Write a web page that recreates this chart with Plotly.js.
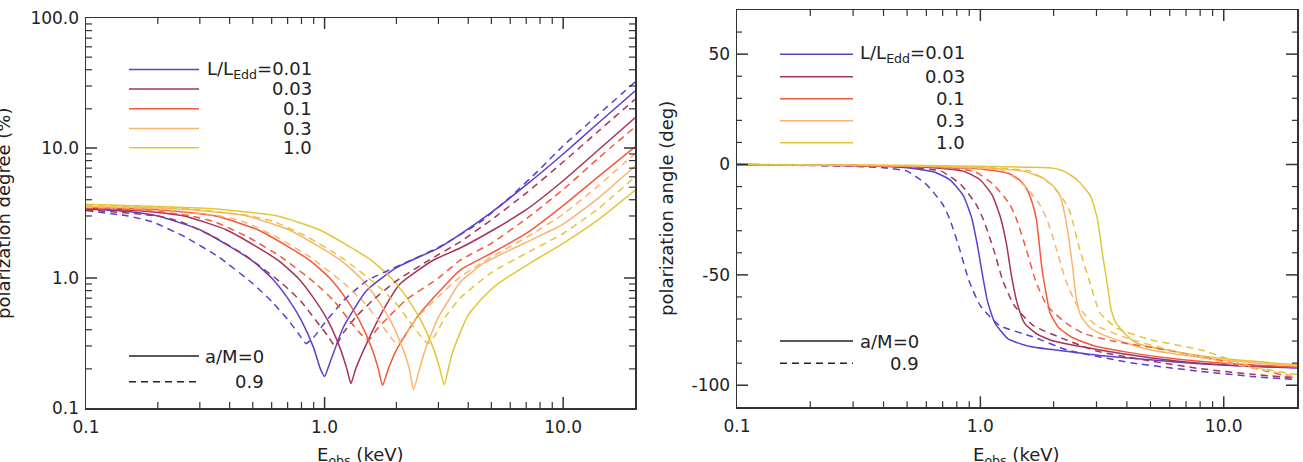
<!DOCTYPE html>
<html>
<head>
<meta charset="utf-8">
<script src="https://cdn.plot.ly/plotly-3.0.1.min.js"></script>
<style>
  html, body { margin: 0; padding: 0; background: #ffffff; }
  #chart { width: 1303px; height: 462px; }
</style>
</head>
<body>
<div id="chart"></div>
<script>
// ---- tick labels -------------------------------------------------------
const energyTickVals = [0.1, 1, 10];
const energyTickText = ['0.1', '1.0', '10.0'];
const degreeTickVals = [0.1, 1, 10, 100];
const degreeTickText = ['0.1', '1.0', '10.0', '100.0'];
const angleTickVals = [-100, -50, 0, 50];
const angleTickText = ['-100', '-50', '0', '50'];

// ---- legend entries ----------------------------------------------------
const lumLabels = ['0.01', '0.03', '0.1', '0.3', '1.0'];
const spinLabels = ['0', '0.9'];

// ---- polarization degree (%) vs energy (keV) ---------------------------
// a/M = 0
const degE_001_s0 = [0.1, 0.15, 0.2, 0.3, 0.4, 0.5, 0.6, 0.7, 0.8, 0.9, 0.96, 1.0, 1.05, 1.2, 1.5, 2.0, 3.0, 3.7, 5.0, 7.0, 10, 14, 20];
const degP_001_s0 = [3.4, 3.25, 3.0, 2.35, 1.75, 1.35, 1.0, 0.7, 0.47, 0.29, 0.2, 0.175, 0.22, 0.42, 0.8, 1.2, 1.7, 2.17, 3.2, 5.2, 9.0, 15.5, 27.4];
const degE_003_s0 = [0.1, 0.18, 0.258, 0.387, 0.516, 0.645, 0.774, 0.9, 1.032, 1.16, 1.24, 1.29, 1.35, 1.5, 1.76, 2.07, 2.85, 3.7, 5.0, 7.0, 10, 14, 20];
const degP_003_s0 = [3.45, 3.25, 3.0, 2.35, 1.75, 1.35, 1.0, 0.7, 0.47, 0.29, 0.2, 0.154, 0.2, 0.313, 0.565, 0.9, 1.37, 1.7, 2.3, 3.35, 5.6, 9.6, 17.1];
const degE_01_s0 = [0.1, 0.2, 0.35, 0.525, 0.7, 0.875, 1.05, 1.225, 1.4, 1.575, 1.68, 1.75, 1.85, 2.0, 2.44, 3.05, 3.7, 5.0, 7.0, 10, 14, 20];
const degP_01_s0 = [3.5, 3.35, 3.0, 2.35, 1.75, 1.35, 1.0, 0.7, 0.47, 0.29, 0.2, 0.149, 0.2, 0.28, 0.5, 0.8, 1.15, 1.55, 2.2, 3.6, 6.0, 10.2];
const degE_03_s0 = [0.1, 0.2, 0.3, 0.472, 0.708, 0.944, 1.18, 1.416, 1.652, 1.888, 2.124, 2.266, 2.36, 2.5, 2.67, 3.0, 3.35, 3.7, 4.65, 7.5, 10, 14, 20];
const degP_03_s0 = [3.55, 3.45, 3.3, 3.0, 2.35, 1.75, 1.35, 1.0, 0.7, 0.47, 0.29, 0.2, 0.139, 0.2, 0.3, 0.5, 0.7, 0.93, 1.3, 2.0, 2.6, 4.1, 7.27];
const degE_1_s0 = [0.1, 0.2, 0.35, 0.634, 0.951, 1.268, 1.585, 1.902, 2.219, 2.536, 2.853, 3.043, 3.17, 3.4, 3.7, 4.0, 4.65, 5.4, 7.5, 10, 14, 20];
const degP_1_s0 = [3.7, 3.55, 3.4, 3.0, 2.35, 1.75, 1.35, 1.0, 0.7, 0.47, 0.29, 0.2, 0.151, 0.25, 0.38, 0.52, 0.72, 0.92, 1.35, 1.85, 2.8, 4.73];
// a/M = 0.9
const degE_001_s9 = [0.1, 0.15, 0.19, 0.26, 0.36, 0.5, 0.6, 0.7, 0.78, 0.836, 0.9, 1.0, 1.2, 1.5, 2.0, 3.0, 4.5, 6.0, 8.0, 10, 14, 20];
const degP_001_s9 = [3.3, 3.0, 2.7, 2.07, 1.45, 0.906, 0.66, 0.48, 0.37, 0.313, 0.35, 0.45, 0.67, 0.95, 1.22, 1.72, 2.7, 4.2, 6.9, 10.4, 18, 32.2];
const degE_003_s9 = [0.1, 0.2, 0.251, 0.344, 0.476, 0.664, 0.797, 0.913, 1.03, 1.107, 1.2, 1.35, 1.6, 2.0, 2.7, 3.7, 5.0, 7.0, 10, 14, 20];
const degP_003_s9 = [3.35, 3.0, 2.7, 2.07, 1.45, 0.906, 0.66, 0.48, 0.36, 0.30, 0.38, 0.5, 0.68, 0.95, 1.35, 1.9, 2.8, 4.5, 7.8, 13.4, 23.7];
const degE_01_s9 = [0.1, 0.2, 0.275, 0.347, 0.476, 0.658, 0.918, 1.10, 1.26, 1.42, 1.53, 1.65, 1.85, 2.2, 3.0, 3.7, 5.0, 7.0, 10, 14, 20];
const degP_01_s9 = [3.45, 3.25, 3.0, 2.7, 2.07, 1.45, 0.906, 0.66, 0.48, 0.37, 0.332, 0.4, 0.5, 0.68, 1.0, 1.37, 1.85, 2.85, 4.8, 8.3, 14.5];
const degE_03_s9 = [0.1, 0.2, 0.364, 0.459, 0.628, 0.869, 1.21, 1.45, 1.67, 1.87, 2.02, 2.2, 2.45, 3.0, 3.7, 5.0, 7.0, 10, 14, 20];
const degP_03_s9 = [3.5, 3.4, 3.0, 2.7, 2.07, 1.45, 0.906, 0.66, 0.48, 0.36, 0.309, 0.38, 0.5, 0.72, 1.02, 1.45, 2.05, 3.1, 5.1, 9.06];
const degE_1_s9 = [0.1, 0.25, 0.49, 0.617, 0.846, 1.17, 1.63, 1.96, 2.24, 2.52, 2.72, 2.95, 3.2, 3.7, 5.0, 7.0, 10, 14, 20];
const degP_1_s9 = [3.6, 3.45, 3.0, 2.7, 2.07, 1.45, 0.906, 0.66, 0.48, 0.36, 0.313, 0.38, 0.5, 0.7, 1.1, 1.55, 2.2, 3.4, 5.98];

// ---- polarization angle (deg) vs energy (keV) --------------------------
// a/M = 0
const angE_001_s0 = [0.1, 0.3, 0.5, 0.65, 0.75, 0.85, 0.92, 0.97, 1.02, 1.07, 1.15, 1.3, 1.6, 2.2, 3.1, 5, 8, 13, 20];
const angA_001_s0 = [0, -0.5, -1.5, -3.5, -7, -14, -24, -36, -50, -62, -72, -79, -82.5, -84.5, -86.5, -88.5, -90.3, -91.5, -92.2];
const angE_003_s0 = [0.1, 0.3, 0.6, 0.85, 1.0, 1.12, 1.21, 1.28, 1.34, 1.41, 1.52, 1.72, 2.0, 3.1, 5, 8, 13, 20];
const angA_003_s0 = [0, -0.5, -1.2, -3, -7, -14, -24, -36, -50, -62, -72, -77, -80, -84, -87.5, -90, -91.3, -92];
const angE_01_s0 = [0.1, 0.3, 0.6, 1.0, 1.3, 1.45, 1.55, 1.63, 1.70, 1.79, 1.86, 1.93, 2.1, 2.4, 2.9, 4, 6, 10, 20];
const angA_01_s0 = [0, -0.4, -1, -2, -4, -7, -11, -17, -25, -47, -58, -67, -74, -78.5, -82, -85, -87.8, -90, -91.8];
const angE_03_s0 = [0.1, 0.3, 0.6, 1.0, 1.5, 1.8, 2.0, 2.13, 2.28, 2.4, 2.49, 2.6, 2.8, 3.1, 4, 5, 9.4, 14, 20];
const angA_03_s0 = [0, -0.3, -0.8, -1.5, -3, -6, -10, -14.4, -29.5, -47.6, -62, -69, -73.5, -76.5, -81, -84, -88.4, -90, -91.3];
const angE_1_s0 = [0.1, 0.3, 0.6, 1.0, 1.5, 1.93, 2.2, 2.49, 2.84, 3.03, 3.17, 3.33, 3.45, 3.62, 4.0, 4.4, 6.8, 10.9, 20];
const angA_1_s0 = [0, -0.2, -0.5, -0.8, -1.2, -1.5, -3, -6.8, -14.4, -25, -40, -55, -66, -72, -77.5, -81, -85.4, -88.4, -90.7];
// a/M = 0.9
const angE_001_s9 = [0.1, 0.3, 0.4, 0.5, 0.6, 0.7, 0.75, 0.82, 0.9, 1.0, 1.2, 1.64, 2.27, 4.2, 8, 13, 20];
const angA_001_s9 = [0, -0.8, -1.5, -3, -9, -18, -25, -38, -53, -64, -73, -78, -84, -89.9, -93.7, -96, -97.5];
const angE_003_s9 = [0.1, 0.3, 0.5, 0.69, 0.83, 0.96, 1.03, 1.13, 1.24, 1.38, 1.65, 2.2, 3.0, 5, 8, 13, 20];
const angA_003_s9 = [0, -0.6, -1.3, -3, -9, -18, -25, -38, -53, -64, -73, -79, -84.5, -89, -92.5, -95, -96.8];
const angE_01_s9 = [0.1, 0.3, 0.6, 0.94, 1.13, 1.32, 1.41, 1.54, 1.69, 1.88, 2.26, 2.65, 3.5, 5.8, 10.9, 20];
const angA_01_s9 = [0, -0.5, -1.2, -3, -9, -18, -25, -38, -53, -64, -72, -76.5, -80, -84, -90, -97];
const angE_03_s9 = [0.1, 0.3, 0.7, 1.25, 1.5, 1.75, 1.88, 2.05, 2.25, 2.5, 3.0, 4.1, 6, 10, 20];
const angA_03_s9 = [0, -0.4, -1, -3, -9, -18, -25, -38, -53, -64, -73, -79, -84, -89.5, -96];
const angE_1_s9 = [0.1, 0.3, 0.8, 1.6, 1.95, 2.2, 2.34, 2.56, 2.82, 3.1, 3.62, 4.97, 8.0, 12.9, 20];
const angA_1_s9 = [0, -0.3, -0.8, -3, -9, -16, -21.9, -38.5, -53.6, -67.2, -74, -79.3, -83.9, -91.4, -95.2];

// ---- styling -----------------------------------------------------------
const lumColors = ['#5b3fd0', '#a5335a', '#f25a3a', '#fbb46e', '#e3c53a'];
const W = 1303, H = 462;
const FONT = 'DejaVu Sans, Liberation Sans, Arial, sans-serif';
const TICK_FS = 17;
const TEXT_FS = 18;
const INK = '#222222';
const AXIS = '#333333';
const DASH = '7px,5px';

const energyRange = [-1, Math.log10(20)];
const degreeRange = [-1, 2];
const angleRange = [-110, 70];

const degreeSeries = [
  [degE_001_s0, degP_001_s0, 0, 0], [degE_003_s0, degP_003_s0, 1, 0],
  [degE_01_s0, degP_01_s0, 2, 0], [degE_03_s0, degP_03_s0, 3, 0],
  [degE_1_s0, degP_1_s0, 4, 0],
  [degE_001_s9, degP_001_s9, 0, 1], [degE_003_s9, degP_003_s9, 1, 1],
  [degE_01_s9, degP_01_s9, 2, 1], [degE_03_s9, degP_03_s9, 3, 1],
  [degE_1_s9, degP_1_s9, 4, 1]
];
const angleSeries = [
  [angE_001_s0, angA_001_s0, 0, 0], [angE_003_s0, angA_003_s0, 1, 0],
  [angE_01_s0, angA_01_s0, 2, 0], [angE_03_s0, angA_03_s0, 3, 0],
  [angE_1_s0, angA_1_s0, 4, 0],
  [angE_001_s9, angA_001_s9, 0, 1], [angE_003_s9, angA_003_s9, 1, 1],
  [angE_01_s9, angA_01_s9, 2, 1], [angE_03_s9, angA_03_s9, 3, 1],
  [angE_1_s9, angA_1_s9, 4, 1]
];

function curve(s, xa, ya) {
  return {
    x: s[0], y: s[1], xaxis: xa, yaxis: ya,
    type: 'scatter', mode: 'lines', showlegend: false, hoverinfo: 'skip',
    line: { color: lumColors[s[2]], width: 1.5, shape: 'spline', smoothing: 0.5,
            dash: s[3] === 0 ? 'solid' : DASH }
  };
}
const traces = degreeSeries.map(s => curve(s, 'x', 'y'))
  .concat(angleSeries.map(s => curve(s, 'x2', 'y2')));

// minor tick positions: 2..9 within each decade
function logMinor(lo, hi) {
  const out = [];
  for (let d = lo; d < hi; d++) {
    for (let m = 2; m <= 9; m++) out.push(m * Math.pow(10, d));
  }
  return out;
}
function linearMinor(lo, hi, step, majorStep) {
  const out = [];
  for (let v = lo; v <= hi; v += step) if (v % majorStep !== 0) out.push(v);
  return out;
}

const px = v => v / W;
const py = v => 1 - v / H;
const tf = { family: FONT, size: TICK_FS, color: INK };

// panel placement (paper fractions)
const degXDom = [px(86), px(635)], degYDom = [py(408), py(18)];
const angXDom = [px(737), px(1297)], angYDom = [py(407.3), py(10)];

function frame(extra) {
  return Object.assign({
    showline: true, linecolor: AXIS, linewidth: 1.5, mirror: true,
    ticks: '', showgrid: false, zeroline: false, tickfont: tf
  }, extra);
}

const layout = {
  width: W, height: H,
  margin: { l: 0, r: 0, t: 0, b: 0 },
  paper_bgcolor: '#ffffff', plot_bgcolor: '#ffffff',
  font: { family: FONT, size: TEXT_FS, color: INK },
  showlegend: false,
  xaxis: frame({
    type: 'log', range: energyRange, domain: degXDom, anchor: 'y',
    tickmode: 'array', tickvals: energyTickVals, ticktext: energyTickText, ticklabelstandoff: 3
  }),
  yaxis: frame({
    type: 'log', range: degreeRange, domain: degYDom, anchor: 'x',
    tickmode: 'array', tickvals: degreeTickVals, ticktext: degreeTickText, ticklabelstandoff: 2
  }),
  xaxis2: frame({
    type: 'log', range: energyRange, domain: angXDom, anchor: 'y2',
    tickmode: 'array', tickvals: energyTickVals, ticktext: energyTickText, ticklabelstandoff: 3
  }),
  yaxis2: frame({
    type: 'linear', range: angleRange, domain: angYDom, anchor: 'x2',
    tickmode: 'array', tickvals: angleTickVals, ticktext: angleTickText, ticklabelstandoff: 2
  }),
  shapes: [],
  annotations: []
};

// inward tick marks on all four sides of a panel, placed from the axis ranges
function frameTicks(xDom, yDom, xRange, yRange, xLog, yLog, xMaj, xMin, yMaj, yMin, yMinLen) {
  const toX = v => { const r = xLog ? Math.log10(v) : v; return (r - xRange[0]) / (xRange[1] - xRange[0]); };
  const toY = v => { const r = yLog ? Math.log10(v) : v; return (r - yRange[0]) / (yRange[1] - yRange[0]); };
  const inside = f => f > 0.001 && f < 0.999;
  const seg = (x0, y0, x1, y1, w) => layout.shapes.push({ type: 'line', xref: 'paper', yref: 'paper',
    x0: x0, y0: y0, x1: x1, y1: y1, line: { color: AXIS, width: w } });
  const xTicks = (vals, len, w) => vals.forEach(v => {
    const f = toX(v); if (!inside(f)) return;
    const x = xDom[0] + f * (xDom[1] - xDom[0]);
    seg(x, yDom[0], x, yDom[0] + len / H, w);
    seg(x, yDom[1], x, yDom[1] - len / H, w);
  });
  const yTicks = (vals, len, w) => vals.forEach(v => {
    const f = toY(v); if (!inside(f)) return;
    const y = yDom[0] + f * (yDom[1] - yDom[0]);
    seg(xDom[0], y, xDom[0] + len / W, y, w);
    seg(xDom[1], y, xDom[1] - len / W, y, w);
  });
  xTicks(xMaj, 11, 1.5); xTicks(xMin, 6, 1.2);
  yTicks(yMaj, 11, 1.5); yTicks(yMin, yMinLen, 1.2);
}
frameTicks(degXDom, degYDom, energyRange, degreeRange, true, true,
  energyTickVals, logMinor(-1, 2), degreeTickVals, logMinor(-1, 2), 6);
frameTicks(angXDom, angYDom, energyRange, angleRange, true, false,
  energyTickVals, logMinor(-1, 2), angleTickVals, linearMinor(-110, 70, 10, 50), 5);

// legend blocks: colour key (luminosity) and line-style key (spin)
function legendBlock(x0, x1, lumRight, spinRight, lumRows, spinRows) {
  const f = { family: FONT, size: TEXT_FS, color: INK };
  lumRows.forEach((yy, i) => {
    layout.shapes.push({ type: 'line', xref: 'paper', yref: 'paper',
      x0: px(x0), x1: px(x1), y0: py(yy), y1: py(yy),
      line: { color: lumColors[i], width: 1.5 } });
    layout.annotations.push({ xref: 'paper', yref: 'paper', x: px(lumRight), y: py(yy),
      xanchor: 'right', yanchor: 'middle', showarrow: false,
      text: i === 0 ? 'L/L<sub>Edd</sub>=' + lumLabels[i] : lumLabels[i], font: f });
  });
  spinRows.forEach((yy, i) => {
    layout.shapes.push({ type: 'line', xref: 'paper', yref: 'paper',
      x0: px(x0), x1: px(x1), y0: py(yy), y1: py(yy),
      line: { color: INK, width: 1.5, dash: i === 0 ? 'solid' : DASH } });
    layout.annotations.push({ xref: 'paper', yref: 'paper', x: px(spinRight), y: py(yy),
      xanchor: 'right', yanchor: 'middle', showarrow: false,
      text: i === 0 ? 'a/M=' + spinLabels[i] : spinLabels[i], font: f });
  });
}
legendBlock(129, 199, 314, 266, [69.5, 89, 108.7, 128.5, 147.7], [356, 381.7]);
legendBlock(780, 853, 967, 921, [54.3, 76.7, 98.7, 120.7, 142.7], [341, 363.3]);

// axis titles
const titleFont = { family: FONT, size: TEXT_FS, color: INK };
layout.annotations.push(
  { xref: 'paper', yref: 'paper', x: px(3), y: py(213), xanchor: 'center', yanchor: 'middle',
    textangle: -90, showarrow: false, text: 'polarization degree (%)', font: titleFont },
  { xref: 'paper', yref: 'paper', x: px(667), y: py(209), xanchor: 'center', yanchor: 'middle',
    textangle: -90, showarrow: false, text: 'polarization angle (deg)', font: titleFont },
  { xref: 'paper', yref: 'paper', x: px(360), y: py(442), xanchor: 'center', yanchor: 'top',
    showarrow: false, text: 'E<sub>obs</sub> (keV)', font: titleFont },
  { xref: 'paper', yref: 'paper', x: px(1016), y: py(442), xanchor: 'center', yanchor: 'top',
    showarrow: false, text: 'E<sub>obs</sub> (keV)', font: titleFont }
);

Plotly.newPlot('chart', traces, layout, { displayModeBar: false, staticPlot: true });
</script>
</body>
</html>
